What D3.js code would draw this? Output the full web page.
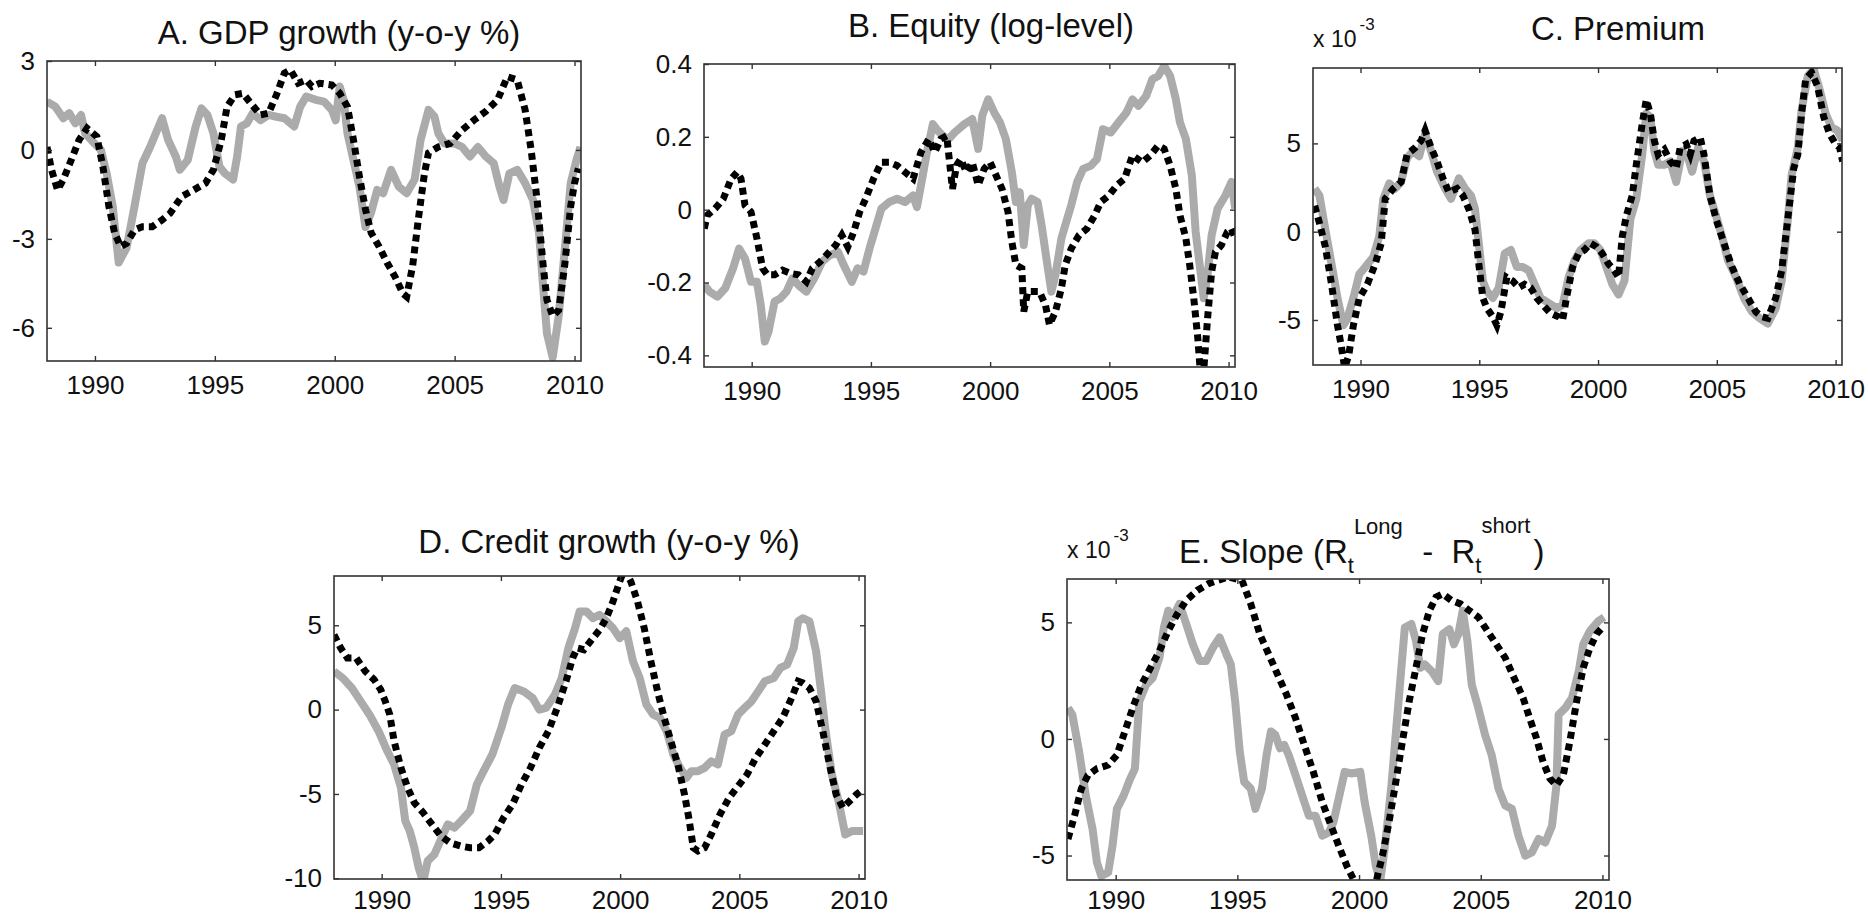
<!DOCTYPE html>
<html>
<head>
<meta charset="utf-8">
<script src="https://cdn.jsdelivr.net/npm/d3@7"></script>
<style>
html, body { margin: 0; padding: 0; background: #fff; }
svg text { font-family: "Liberation Sans", Arial, Helvetica, sans-serif; fill: #111; white-space: pre; }
</style>
</head>
<body>
<svg id="chart" width="1868" height="918"></svg>
<script>
var fig = fig || {};

// Five panels, each a grey solid line (data) and a black dotted line (model).


//// DATA ///////////////////////////////////////////////////////////////////////

var yearTicks = [1990, 1995, 2000, 2005, 2010];
var yearRange = [1988, 2010.27];

var gdpTicks = [3, 0, -3, -6];
var equityTicks = [0.4, 0.2, 0, -0.2, -0.4];
var premiumTicks = [5, 0, -5];
var creditTicks = [5, 0, -5, -10];
var slopeTicks = [5, 0, -5];

var gdpActual = [[1988.0,1.63],[1988.35,1.46],[1988.68,1.07],[1988.93,1.24],[1989.18,0.9],[1989.42,1.18],[1989.59,0.56],[1990.0,0.2],[1990.25,0],[1990.49,-0.8],[1990.74,-1.9],[1990.99,-3.8],[1991.32,-3.3],[1991.65,-1.9],[1991.98,-0.45],[1992.3,0.1],[1992.8,1.07],[1993.05,0.34],[1993.37,-0.22],[1993.54,-0.67],[1993.87,-0.34],[1994.2,0.79],[1994.44,1.4],[1994.69,1.18],[1994.94,0.56],[1995.19,-0.56],[1995.43,-0.8],[1995.76,-1.0],[1995.93,-0.22],[1996.09,0.79],[1996.34,0.9],[1996.58,1.24],[1996.91,1.0],[1997.24,1.18],[1997.57,1.12],[1997.9,1.07],[1998.31,0.79],[1998.56,1.46],[1998.81,1.8],[1999.22,1.69],[1999.55,1.63],[1999.88,1.35],[2000.04,1.0],[2000.21,2.14],[2000.37,1.69],[2000.53,0.56],[2000.78,-0.34],[2001.03,-1.24],[2001.28,-2.6],[2001.52,-2.1],[2001.77,-1.35],[2002.02,-1.46],[2002.35,-0.67],[2002.67,-1.24],[2003.0,-1.46],[2003.33,-1.0],[2003.58,0.34],[2003.91,1.35],[2004.16,1.12],[2004.32,0.56],[2004.57,0.22],[2004.98,0.22],[2005.31,0.1],[2005.64,-0.22],[2005.97,0.1],[2006.3,-0.22],[2006.63,-0.45],[2006.87,-1.24],[2007.04,-1.69],[2007.28,-0.8],[2007.61,-0.67],[2007.94,-1.12],[2008.27,-1.69],[2008.52,-2.8],[2008.68,-4.5],[2008.85,-6.19],[2009.09,-7.0],[2009.34,-5.6],[2009.59,-3.4],[2009.84,-1.12],[2010.08,-0.34],[2010.25,0.1]];
var gdpModel = [[1988.0,0.1],[1988.19,-0.67],[1988.44,-1.35],[1988.68,-1.0],[1989.01,-0.34],[1989.34,0.34],[1989.67,0.73],[1990.08,0.45],[1990.33,-0.56],[1990.58,-1.9],[1990.82,-2.8],[1991.07,-3.26],[1991.32,-3.15],[1991.65,-2.7],[1991.98,-2.59],[1992.39,-2.59],[1992.8,-2.36],[1993.13,-2.14],[1993.62,-1.57],[1994.12,-1.35],[1994.61,-1.12],[1994.94,-0.67],[1995.27,0.34],[1995.51,1.46],[1995.84,1.86],[1996.17,1.91],[1996.5,1.57],[1996.91,1.18],[1997.24,1.24],[1997.57,1.86],[1997.9,2.59],[1998.15,2.7],[1998.48,2.25],[1998.81,2.36],[1999.05,2.14],[1999.38,2.25],[1999.88,2.19],[2000.21,1.91],[2000.53,1.46],[2000.78,0.34],[2001.03,-0.9],[2001.28,-2.0],[2001.52,-2.8],[2001.85,-3.26],[2002.18,-3.8],[2002.51,-4.27],[2002.84,-4.84],[2003.0,-4.95],[2003.25,-3.9],[2003.5,-2.25],[2003.74,-0.8],[2003.91,-0.1],[2004.32,0.1],[2004.81,0.22],[2005.31,0.67],[2005.8,1.0],[2006.3,1.3],[2006.79,1.69],[2007.2,2.47],[2007.61,2.36],[2007.94,1.35],[2008.19,0],[2008.44,-1.69],[2008.68,-3.8],[2008.85,-5.06],[2009.09,-5.6],[2009.34,-5.4],[2009.59,-3.9],[2009.84,-1.9],[2010.0,-1.12],[2010.16,-0.62]];

var equityActual = [[1988.01,-0.207],[1988.23,-0.225],[1988.56,-0.239],[1988.89,-0.216],[1989.22,-0.161],[1989.47,-0.107],[1989.72,-0.134],[1989.97,-0.198],[1990.22,-0.198],[1990.38,-0.262],[1990.55,-0.362],[1990.71,-0.334],[1990.96,-0.252],[1991.21,-0.243],[1991.46,-0.225],[1991.71,-0.189],[1991.96,-0.207],[1992.29,-0.225],[1992.62,-0.189],[1992.95,-0.143],[1993.28,-0.125],[1993.62,-0.116],[1993.86,-0.152],[1994.2,-0.198],[1994.44,-0.161],[1994.69,-0.17],[1994.94,-0.107],[1995.19,-0.052],[1995.44,0.003],[1995.77,0.021],[1996.1,0.03],[1996.43,0.021],[1996.77,0.039],[1996.93,0.007],[1997.1,0.067],[1997.35,0.158],[1997.6,0.235],[1997.76,0.221],[1998.01,0.203],[1998.26,0.194],[1998.51,0.212],[1998.67,0.221],[1998.92,0.235],[1999.25,0.249],[1999.5,0.167],[1999.67,0.258],[1999.92,0.303],[2000.17,0.267],[2000.41,0.24],[2000.66,0.194],[2000.91,0.103],[2001.08,0.021],[2001.24,0.048],[2001.33,-0.025],[2001.41,-0.097],[2001.58,0.012],[2001.74,0.03],[2001.99,0.021],[2002.16,-0.043],[2002.4,-0.152],[2002.57,-0.225],[2002.74,-0.179],[2002.99,-0.079],[2003.23,-0.025],[2003.4,0.012],[2003.65,0.076],[2003.9,0.112],[2004.23,0.121],[2004.48,0.139],[2004.73,0.221],[2005.06,0.212],[2005.39,0.24],[2005.72,0.267],[2005.97,0.303],[2006.22,0.285],[2006.55,0.313],[2006.8,0.358],[2007.05,0.367],[2007.3,0.395],[2007.55,0.367],[2007.79,0.303],[2007.96,0.24],[2008.21,0.194],[2008.46,0.094],[2008.62,-0.061],[2008.79,-0.152],[2008.96,-0.243],[2009.12,-0.179],[2009.29,-0.07],[2009.54,0.003],[2009.87,0.039],[2010.12,0.076],[2010.28,0.003]];
var equityModel = [[1988.01,-0.052],[1988.14,-0.015],[1988.47,0.003],[1988.81,0.03],[1989.14,0.085],[1989.39,0.103],[1989.55,0.085],[1989.72,0.012],[1989.97,-0.006],[1990.22,-0.079],[1990.46,-0.161],[1990.66,-0.179],[1990.96,-0.179],[1991.29,-0.166],[1991.63,-0.175],[1991.96,-0.179],[1992.29,-0.198],[1992.54,-0.161],[1992.87,-0.143],[1993.2,-0.12],[1993.53,-0.097],[1993.78,-0.07],[1994.03,-0.102],[1994.28,-0.061],[1994.53,-0.006],[1994.78,0.03],[1995.11,0.085],[1995.44,0.13],[1995.77,0.13],[1996.1,0.121],[1996.43,0.103],[1996.77,0.085],[1997.1,0.158],[1997.43,0.194],[1997.68,0.158],[1997.93,0.194],[1998.18,0.203],[1998.42,0.057],[1998.59,0.121],[1998.76,0.139],[1999.01,0.103],[1999.25,0.13],[1999.5,0.067],[1999.75,0.112],[2000.0,0.13],[2000.25,0.094],[2000.5,0.057],[2000.75,-0.006],[2000.91,-0.088],[2001.08,-0.152],[2001.33,-0.161],[2001.41,-0.28],[2001.58,-0.225],[2001.82,-0.225],[2002.07,-0.225],[2002.32,-0.262],[2002.49,-0.316],[2002.74,-0.28],[2002.99,-0.216],[2003.15,-0.152],[2003.4,-0.107],[2003.73,-0.07],[2004.06,-0.052],[2004.39,-0.015],[2004.64,0.021],[2004.98,0.039],[2005.31,0.067],[2005.64,0.085],[2005.97,0.149],[2006.38,0.13],[2006.72,0.149],[2007.05,0.176],[2007.3,0.167],[2007.55,0.121],[2007.79,0.057],[2007.96,-0.015],[2008.21,-0.079],[2008.37,-0.152],[2008.54,-0.243],[2008.71,-0.353],[2008.82,-0.45],[2008.96,-0.44],[2009.12,-0.298],[2009.29,-0.17],[2009.45,-0.116],[2009.7,-0.097],[2009.95,-0.061],[2010.12,-0.052],[2010.28,-0.079]];

var premiumActual = [[1988.07,2.44],[1988.27,2.05],[1988.52,0.12],[1988.78,-1.82],[1989.03,-3.75],[1989.28,-5.3],[1989.45,-4.91],[1989.7,-3.75],[1989.95,-2.4],[1990.2,-2.0],[1990.54,-1.43],[1990.79,-0.27],[1990.96,1.86],[1991.21,2.73],[1991.46,2.44],[1991.71,2.82],[1991.96,4.18],[1992.21,4.56],[1992.47,4.27],[1992.72,5.53],[1992.97,4.56],[1993.22,3.4],[1993.56,2.44],[1993.81,1.86],[1994.14,3.02],[1994.4,2.44],[1994.65,2.05],[1994.82,1.28],[1994.98,-0.66],[1995.15,-2.79],[1995.32,-3.37],[1995.57,-3.75],[1995.82,-3.17],[1996.07,-1.24],[1996.33,-1.04],[1996.58,-2.0],[1996.83,-2.0],[1997.08,-2.2],[1997.33,-2.98],[1997.58,-3.75],[1997.92,-4.04],[1998.26,-4.33],[1998.51,-4.14],[1998.76,-2.59],[1999.01,-1.62],[1999.26,-1.04],[1999.6,-0.66],[1999.85,-0.66],[2000.1,-1.04],[2000.35,-2.0],[2000.6,-2.98],[2000.86,-3.56],[2001.11,-2.79],[2001.36,0.7],[2001.61,1.86],[2001.86,4.37],[2002.03,6.69],[2002.2,6.5],[2002.37,4.56],[2002.53,3.79],[2002.79,3.79],[2003.04,3.98],[2003.29,2.82],[2003.54,4.56],[2003.79,4.18],[2003.96,3.4],[2004.21,4.76],[2004.46,3.98],[2004.71,2.05],[2004.97,0.89],[2005.22,-0.27],[2005.47,-1.62],[2005.81,-2.59],[2006.14,-3.75],[2006.48,-4.53],[2006.81,-4.91],[2007.15,-5.2],[2007.48,-4.33],[2007.73,-2.79],[2007.99,0.7],[2008.15,3.21],[2008.41,4.76],[2008.57,6.89],[2008.83,8.82],[2009.08,9.2],[2009.33,8.05],[2009.58,6.69],[2009.83,5.92],[2010.08,5.73],[2010.3,5.15]];
var premiumModel = [[1988.07,1.47],[1988.27,0.5],[1988.52,-0.85],[1988.78,-2.98],[1989.03,-5.3],[1989.19,-6.46],[1989.33,-7.7],[1989.5,-7.04],[1989.7,-5.3],[1989.95,-3.75],[1990.29,-2.98],[1990.62,-1.82],[1990.87,-0.66],[1991.04,1.86],[1991.38,2.44],[1991.71,2.82],[1991.96,4.37],[1992.3,4.76],[1992.55,5.15],[1992.72,5.73],[1992.97,4.76],[1993.22,3.98],[1993.47,3.02],[1993.72,2.24],[1994.06,2.44],[1994.31,2.05],[1994.56,1.28],[1994.82,0.12],[1994.98,-1.82],[1995.15,-3.75],[1995.32,-4.33],[1995.57,-4.82],[1995.74,-5.3],[1995.91,-4.53],[1996.16,-2.59],[1996.41,-2.79],[1996.66,-3.17],[1996.91,-2.98],[1997.16,-3.17],[1997.42,-3.75],[1997.67,-4.14],[1998.0,-4.62],[1998.34,-4.82],[1998.51,-5.0],[1998.67,-3.75],[1998.93,-2.0],[1999.18,-1.24],[1999.43,-1.04],[1999.68,-0.66],[1999.93,-0.85],[2000.18,-1.24],[2000.44,-1.82],[2000.69,-2.2],[2000.86,-2.59],[2001.02,-0.27],[2001.19,0.89],[2001.44,2.05],[2001.61,3.79],[2001.86,6.11],[2002.03,7.47],[2002.2,6.69],[2002.37,5.15],[2002.53,4.37],[2002.79,4.66],[2003.04,3.98],[2003.29,3.6],[2003.46,4.76],[2003.71,4.95],[2003.88,4.37],[2004.04,5.15],[2004.3,5.34],[2004.46,4.37],[2004.71,2.05],[2004.97,0.7],[2005.3,-0.66],[2005.64,-2.0],[2005.97,-2.98],[2006.31,-3.75],[2006.64,-4.53],[2006.9,-4.82],[2007.15,-4.91],[2007.48,-3.75],[2007.73,-2.2],[2007.9,-0.27],[2008.07,1.66],[2008.24,3.6],[2008.41,4.37],[2008.57,6.69],[2008.74,8.63],[2008.99,9.01],[2009.24,8.24],[2009.5,6.5],[2009.75,5.53],[2010.0,4.95],[2010.17,4.76],[2010.3,3.98]];

var creditActual = [[1988.0,2.27],[1988.37,1.87],[1988.75,1.28],[1989.12,0.49],[1989.49,-0.3],[1989.87,-1.28],[1990.24,-2.47],[1990.52,-3.25],[1990.81,-4.64],[1990.99,-6.6],[1991.18,-7.2],[1991.37,-8.19],[1991.55,-9.37],[1991.74,-10.2],[1991.93,-8.97],[1992.21,-8.58],[1992.58,-7.4],[1992.77,-6.8],[1993.05,-7.0],[1993.33,-6.6],[1993.71,-6.0],[1993.99,-4.44],[1994.27,-3.65],[1994.64,-2.66],[1995.02,-1.08],[1995.3,0.3],[1995.58,1.28],[1995.96,1.08],[1996.33,0.69],[1996.61,0],[1996.89,0.1],[1997.27,0.89],[1997.55,1.87],[1997.83,3.65],[1998.11,4.83],[1998.3,5.82],[1998.58,5.82],[1998.86,5.42],[1999.14,5.62],[1999.42,5.23],[1999.7,4.83],[1999.98,4.24],[2000.26,4.64],[2000.54,2.86],[2000.82,1.87],[2001.1,0.3],[2001.39,-0.3],[2001.67,-0.49],[2001.95,-1.28],[2002.23,-2.66],[2002.51,-3.45],[2002.79,-4.04],[2002.98,-3.65],[2003.26,-3.65],[2003.54,-3.45],[2003.82,-3.06],[2004.1,-3.25],[2004.38,-1.48],[2004.66,-1.28],[2004.94,-0.3],[2005.22,0.1],[2005.51,0.49],[2005.79,1.08],[2006.07,1.68],[2006.44,1.87],[2006.72,2.47],[2007.0,2.66],[2007.28,3.65],[2007.47,5.23],[2007.66,5.42],[2007.94,5.23],[2008.22,3.45],[2008.41,1.28],[2008.6,-1.08],[2008.88,-3.85],[2009.16,-5.42],[2009.44,-7.4],[2009.72,-7.2],[2010.19,-7.2]];
var creditModel = [[1988.0,4.44],[1988.28,3.65],[1988.56,3.06],[1988.93,3.06],[1989.31,2.27],[1989.68,1.78],[1989.96,1.18],[1990.15,0.49],[1990.34,-0.3],[1990.52,-1.87],[1990.81,-3.45],[1991.09,-4.64],[1991.37,-5.52],[1991.74,-6.11],[1992.11,-6.8],[1992.49,-7.5],[1992.87,-7.89],[1993.33,-8.09],[1993.71,-8.19],[1994.08,-8.19],[1994.46,-7.79],[1994.74,-7.4],[1995.11,-6.41],[1995.49,-5.62],[1995.86,-4.44],[1996.24,-3.45],[1996.61,-2.27],[1996.99,-1.28],[1997.36,0.1],[1997.73,1.68],[1998.01,3.06],[1998.2,3.65],[1998.48,3.55],[1998.86,4.24],[1999.14,4.73],[1999.42,5.42],[1999.7,6.41],[1999.98,7.59],[2000.17,8.3],[2000.45,7.59],[2000.73,6.41],[2001.01,4.83],[2001.29,2.86],[2001.57,1.08],[2001.85,-0.49],[2002.13,-1.87],[2002.42,-3.25],[2002.7,-5.03],[2002.88,-6.41],[2003.07,-8.19],[2003.26,-8.38],[2003.54,-8.19],[2003.82,-7.4],[2004.19,-6.21],[2004.57,-5.23],[2004.94,-4.54],[2005.32,-3.85],[2005.69,-2.86],[2006.07,-2.07],[2006.44,-1.28],[2006.82,-0.49],[2007.19,0.69],[2007.47,1.68],[2007.66,1.58],[2007.94,1.28],[2008.22,0.49],[2008.5,-1.28],[2008.78,-3.25],[2009.06,-5.03],[2009.34,-5.82],[2009.63,-5.42],[2009.91,-5.03],[2010.09,-4.83]];

var slopeActual = [[1988.04,1.33],[1988.22,1.04],[1988.5,-0.55],[1988.77,-2.42],[1989.05,-3.86],[1989.23,-5.3],[1989.41,-5.88],[1989.69,-5.73],[1989.87,-4.58],[1990.05,-3.0],[1990.33,-2.42],[1990.6,-1.7],[1990.79,-1.27],[1990.97,1.61],[1991.25,2.33],[1991.52,2.62],[1991.8,3.49],[1991.98,4.78],[1992.16,5.5],[1992.35,5.22],[1992.62,5.79],[1992.9,4.93],[1993.17,4.06],[1993.45,3.34],[1993.72,3.34],[1994.0,3.92],[1994.27,4.35],[1994.55,3.63],[1994.73,3.2],[1994.91,1.61],[1995.1,-0.55],[1995.28,-1.84],[1995.55,-2.13],[1995.74,-3.0],[1996.01,-2.13],[1996.2,-0.69],[1996.38,0.32],[1996.56,0.17],[1996.75,-0.4],[1996.93,-0.26],[1997.11,-0.69],[1997.39,-1.56],[1997.66,-2.42],[1997.94,-3.29],[1998.21,-3.29],[1998.49,-4.15],[1998.76,-4.01],[1998.95,-3.57],[1999.13,-2.71],[1999.41,-1.41],[1999.68,-1.48],[2000.05,-1.41],[2000.23,-2.71],[2000.5,-4.15],[2000.69,-5.45],[2000.87,-6.1],[2001.05,-4.73],[2001.33,-1.99],[2001.6,1.33],[2001.88,4.78],[2002.15,4.93],[2002.34,4.21],[2002.52,3.05],[2002.7,3.2],[2002.98,2.91],[2003.25,2.48],[2003.44,4.5],[2003.71,4.71],[2003.9,4.06],[2004.08,4.5],[2004.26,5.5],[2004.45,4.21],[2004.63,2.33],[2004.9,1.33],[2005.18,0.17],[2005.45,-0.69],[2005.73,-2.13],[2006.0,-2.85],[2006.28,-3.0],[2006.55,-4.15],[2006.83,-5.01],[2007.1,-4.87],[2007.38,-4.29],[2007.65,-4.44],[2007.93,-3.72],[2008.11,-1.99],[2008.2,1.04],[2008.48,1.33],[2008.75,1.76],[2009.03,2.91],[2009.21,4.06],[2009.49,4.64],[2009.85,5.07],[2010.07,5.22]];
var slopeModel = [[1988.04,-4.29],[1988.31,-3.29],[1988.59,-2.13],[1988.86,-1.56],[1989.23,-1.27],[1989.69,-1.12],[1990.05,-0.69],[1990.33,0.17],[1990.7,1.33],[1991.06,2.33],[1991.43,3.05],[1991.8,3.78],[1992.16,4.64],[1992.53,5.36],[1992.9,5.94],[1993.35,6.37],[1993.81,6.66],[1994.18,6.8],[1994.64,6.95],[1995.19,6.8],[1995.55,5.79],[1995.92,4.5],[1996.29,3.63],[1996.65,2.77],[1997.02,1.9],[1997.39,0.89],[1997.75,-0.26],[1998.12,-1.41],[1998.49,-2.71],[1998.85,-3.72],[1999.22,-4.73],[1999.5,-5.45],[1999.77,-6.02],[2000.14,-6.3],[2000.69,-6.17],[2000.96,-5.01],[2001.23,-3.57],[2001.51,-1.84],[2001.78,-0.12],[2002.06,1.61],[2002.34,3.05],[2002.61,4.5],[2002.89,5.5],[2003.16,6.08],[2003.44,6.22],[2003.8,5.94],[2004.17,5.79],[2004.54,5.5],[2004.9,5.22],[2005.27,4.64],[2005.64,4.06],[2006.0,3.49],[2006.37,2.62],[2006.74,1.76],[2007.01,0.89],[2007.29,0.03],[2007.56,-0.98],[2007.84,-1.7],[2008.11,-1.99],[2008.39,-1.56],[2008.66,-0.12],[2008.94,1.61],[2009.21,3.05],[2009.49,3.92],[2009.76,4.5],[2010.07,4.86]];


//// LAYOUT /////////////////////////////////////////////////////////////////////

fig.tick_font = 26;
fig.title_font = 33;
fig.grey = "#ababab";

fig.panels = [
	{ name: "gdp", actual: gdpActual, model: gdpModel, ticks: gdpTicks, yRange: [-7.12, 3],
	  left: 47, right: 581, top: 61, bottom: 361, titleX: 339, titleY: 44, pad: 15 },
	{ name: "equity", actual: equityActual, model: equityModel, ticks: equityTicks, yRange: [-0.432, 0.4],
	  left: 704, right: 1235, top: 64, bottom: 367, titleX: 991, titleY: 37, pad: 15 },
	{ name: "premium", actual: premiumActual, model: premiumModel, ticks: premiumTicks, yRange: [-7.55, 9.27],
	  left: 1313, right: 1842, top: 68, bottom: 365, titleX: 1618, titleY: 40, pad: 15, exponent: true },
	{ name: "credit", actual: creditActual, model: creditModel, ticks: creditTicks, yRange: [-10.04, 7.92],
	  left: 334, right: 865, top: 576, bottom: 879, titleX: 609, titleY: 553, pad: 12 },
	{ name: "slope", actual: slopeActual, model: slopeModel, ticks: slopeTicks, yRange: [-6.05, 6.86],
	  left: 1067, right: 1609, top: 579, bottom: 880, titleX: 1179, titleY: 563, pad: 11, exponent: true }
];

fig.titles = {
	gdp: "A. GDP growth (y-o-y %)",
	equity: "B. Equity (log-level)",
	premium: "C. Premium",
	credit: "D. Credit growth (y-o-y %)"
};


//// DRAWING ////////////////////////////////////////////////////////////////////

fig.svg = d3.select("#chart");
fig.svg.append("rect").attr("width", 1868).attr("height", 918).attr("fill", "#fff");

function styleAxis(sel) {
	sel.select(".domain").remove();
	sel.attr("font-family", null).attr("font-size", null);
	sel.selectAll("line").attr("stroke", "#333").attr("stroke-width", 1.4);
	sel.selectAll("text").style("font-size", fig.tick_font + "px").attr("fill", "#111");
}

// writes pieces of text one after the other, each one where the last ended
function chainText(g, x, y, parts) {
	var cx = x;
	parts.forEach(function(p) {
		var t = g.append("text")
			.attr("x", cx + (p.dx || 0))
			.attr("y", y + (p.dy || 0))
			.style("font-size", p.size + "px")
			.text(p.text);
		cx += (p.dx || 0) + t.node().getComputedTextLength();
	});
}

function drawPanel(p) {
	var x = d3.scaleLinear().domain(yearRange).range([p.left, p.right]);
	var y = d3.scaleLinear().domain(p.yRange).range([p.bottom, p.top]);
	var g = fig.svg.append("g").attr("class", "panel-" + p.name);

	g.append("clipPath").attr("id", "clip-" + p.name)
		.append("rect")
		.attr("x", p.left).attr("y", p.top)
		.attr("width", p.right - p.left).attr("height", p.bottom - p.top);

	var line = d3.line()
		.x(function(d) { return x(d[0]); })
		.y(function(d) { return y(d[1]); });

	var plot = g.append("g").attr("clip-path", "url(#clip-" + p.name + ")");

	plot.append("path").datum(p.actual)
		.attr("d", line)
		.attr("fill", "none")
		.attr("stroke", fig.grey)
		.attr("stroke-width", 8)
		.attr("stroke-linejoin", "round");

	plot.append("path").datum(p.model)
		.attr("d", line)
		.attr("fill", "none")
		.attr("stroke", "#000")
		.attr("stroke-width", 7)
		.attr("stroke-dasharray", "7,5");

	// ticks point inwards on all four sides, labels only left and bottom
	var fmt = function(d) { return String(d); };
	var none = function() { return ""; };

	g.append("g").attr("transform", "translate(0," + p.bottom + ")")
		.call(d3.axisBottom(x).tickValues(yearTicks).tickSizeInner(-5).tickSizeOuter(0).tickPadding(p.pad).tickFormat(fmt))
		.call(styleAxis);
	g.append("g").attr("transform", "translate(0," + p.top + ")")
		.call(d3.axisTop(x).tickValues(yearTicks).tickSizeInner(-5).tickSizeOuter(0).tickFormat(none))
		.call(styleAxis);
	g.append("g").attr("transform", "translate(" + p.left + ",0)")
		.call(d3.axisLeft(y).tickValues(p.ticks).tickSizeInner(-5).tickSizeOuter(0).tickPadding(12).tickFormat(fmt))
		.call(styleAxis);
	g.append("g").attr("transform", "translate(" + p.right + ",0)")
		.call(d3.axisRight(y).tickValues(p.ticks).tickSizeInner(-5).tickSizeOuter(0).tickFormat(none))
		.call(styleAxis);

	g.append("rect")
		.attr("x", p.left).attr("y", p.top)
		.attr("width", p.right - p.left).attr("height", p.bottom - p.top)
		.attr("fill", "none")
		.attr("stroke", "#333")
		.attr("stroke-width", 1.6);

	if (p.exponent) {
		chainText(g, p.left, p.top - 21, [
			{ text: "x 10", size: 23 },
			{ text: "-3", size: 17, dx: 3, dy: -17 }
		]);
	}

	if (fig.titles[p.name]) {
		g.append("text")
			.attr("x", p.titleX).attr("y", p.titleY)
			.attr("text-anchor", "middle")
			.style("font-size", fig.title_font + "px")
			.text(fig.titles[p.name]);
	} else {
		// E. Slope (R_t^Long - R_t^short)
		var tf = fig.title_font;
		chainText(g, p.titleX, p.titleY, [
			{ text: "E. Slope (R", size: tf },
			{ text: "t", size: 22, dx: 0, dy: 10 },
			{ text: "Long", size: 22, dy: -29 },
			{ text: "  -  R", size: tf, dx: 1 },
			{ text: "t", size: 22, dx: 0, dy: 10 },
			{ text: "short", size: 22, dy: -30 },
			{ text: ")", size: tf, dx: 3 }
		]);
	}
}

fig.panels.forEach(drawPanel);
</script>
</body>
</html>
